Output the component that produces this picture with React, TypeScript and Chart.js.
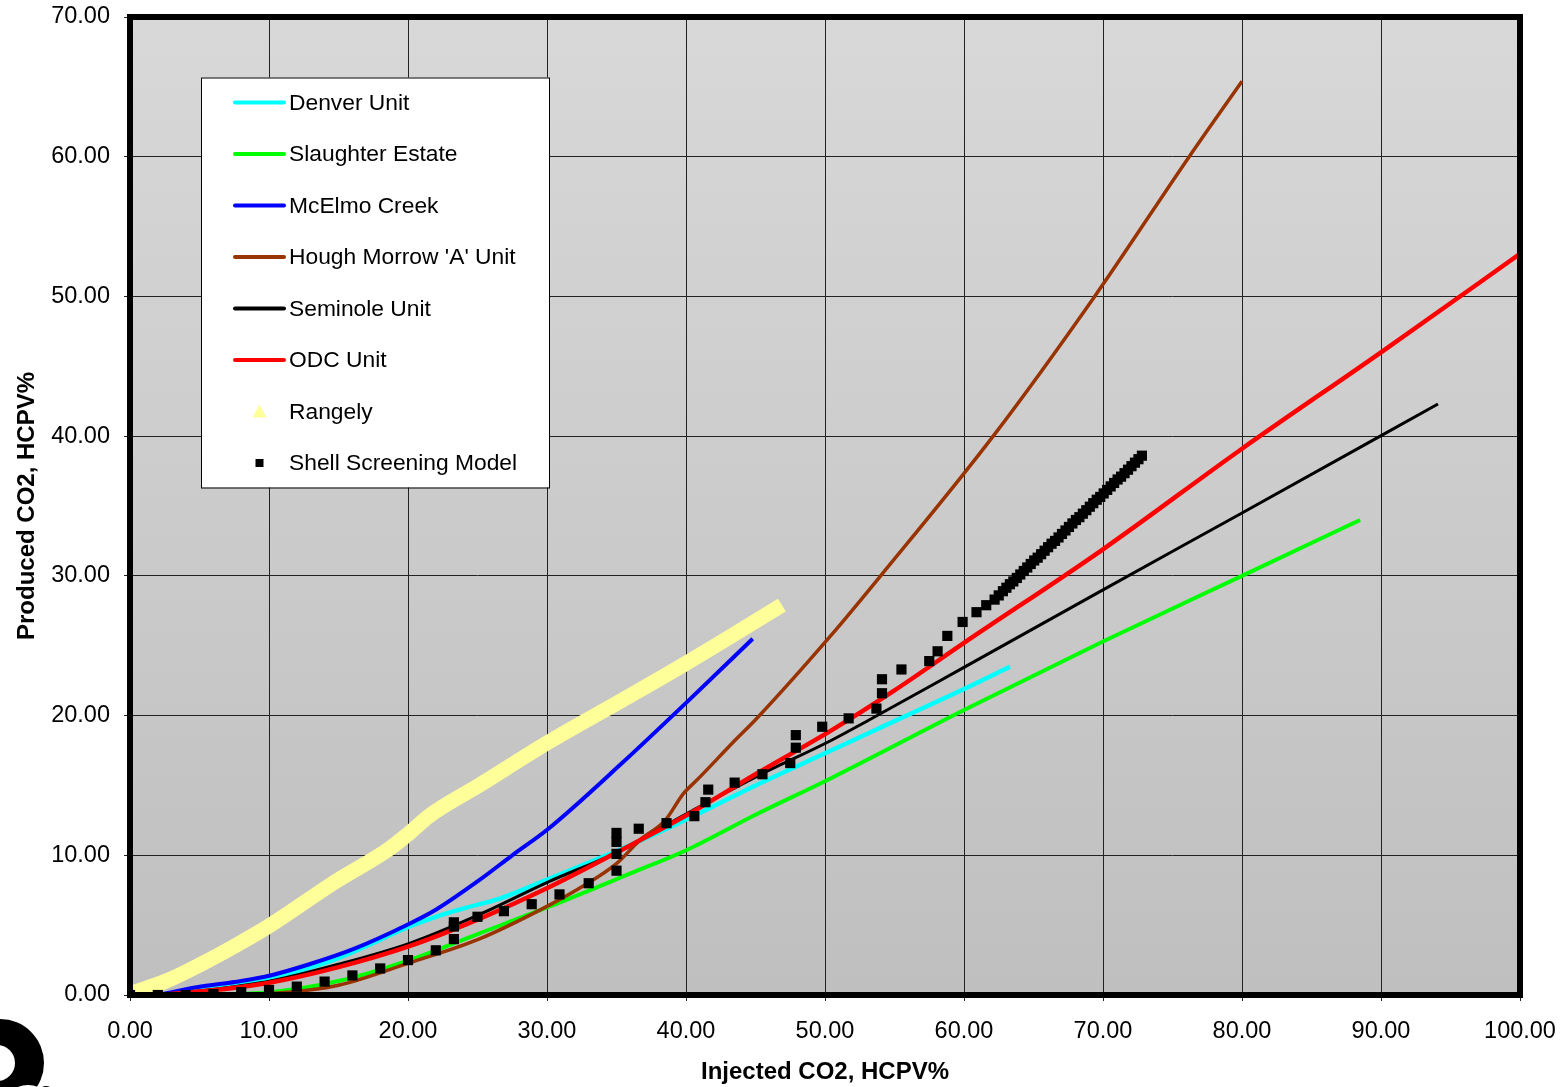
import React, { useEffect, useRef } from 'react';
import { Chart, registerables } from 'chart.js';

Chart.register(...registerables);

const FONT = "'Liberation Sans', Arial, Helvetica, sans-serif";

// ---- Data ----
const denverX = [2, 5, 8, 10, 12, 14.6, 17, 20.1, 22, 24, 26.6, 30.1, 35, 40.1, 45, 50, 55, 60, 63.3];
const denverY = [0, 0.35, 0.8, 1.2, 1.7, 2.5, 3.5, 4.9, 5.6, 6.2, 6.9, 8.3, 10.3, 12.6, 15.0, 17.3, 19.6, 21.9, 23.5];

const slaughterX = [4.8, 10.1, 15, 20.1, 25.1, 30.1, 36, 40.1, 45, 50.4, 60, 70, 80, 88.5];
const slaughterY = [0, 0.2, 1.0, 2.5, 4.4, 6.3, 8.7, 10.4, 12.9, 15.5, 20.4, 25.3, 30.0, 34.0];

const mcelmoX = [2, 4.8, 8, 10.1, 12.9, 16.1, 20.1, 22, 25.1, 27.5, 30.1, 35.4, 40.1, 44.8];
const mcelmoY = [0, 0.55, 1.0, 1.4, 2.2, 3.3, 5.1, 6.1, 8.2, 10.0, 11.9, 16.6, 21.0, 25.5];

const houghX = [6, 10.1, 15, 20.1, 25.1, 30.1, 32.6, 35, 36.7, 38.5, 39.8, 40.8, 43.6, 45, 50.4, 54, 62.1, 69.4, 76.2, 80];
const houghY = [0, 0.1, 0.7, 2.3, 4.0, 6.4, 7.8, 9.4, 11.1, 12.5, 14.4, 15.4, 18.3, 19.7, 25.7, 30.0, 40.0, 50.0, 60.0, 65.4];

const seminoleX = [2, 6, 10.1, 15, 20.1, 25, 30.1, 35, 40.1, 45, 50.4, 53.2, 59.9, 70, 80, 94.1];
const seminoleY = [0, 0.4, 1.0, 2.2, 3.7, 5.7, 8.1, 10.2, 13.0, 15.6, 18.2, 19.7, 23.4, 29.0, 34.5, 42.3];

const odcX = [2, 6, 10.1, 15, 20.1, 25, 30.1, 35, 40.1, 45, 50.4, 55, 60, 70, 80, 90, 100.5];
const odcY = [0, 0.35, 0.9, 2.0, 3.5, 5.4, 7.7, 10.2, 12.9, 15.8, 18.9, 21.8, 25.2, 31.9, 39.1, 46.0, 53.4];

const rangelyX = [0, 2.6, 5.1, 7.7, 10.1, 14.6, 18.7, 20.1, 21.5, 25.1, 30.1, 35.4, 40.1, 46.9];
const rangelyY = [0.1, 1.0, 2.2, 3.6, 5.0, 8.0, 10.5, 11.6, 12.8, 15.0, 18.1, 21.1, 23.8, 27.9];

const shellX = [
  0, 2, 4, 6, 8, 10, 12, 14, 16, 18, 20, 22, 23.3, 23.3, 23.3, 25, 26.9, 28.9, 30.9, 33,
  35, 35, 35, 35, 36.6, 38.6, 40.6, 41.4, 41.6, 43.5, 45.5, 47.5, 47.9, 47.9, 49.8,
  51.7, 53.7, 54.1, 54.1, 55.5, 57.5, 58.1, 58.8, 59.9, 60.9, 61.6, 62.2, 62.5,
  62.8, 63.05, 63.3, 63.55, 63.8, 64.05, 64.3, 64.55, 64.8, 65.05, 65.3, 65.55, 65.8, 66.05,
  66.3, 66.55, 66.8, 67.05, 67.3, 67.55, 67.8, 68.05, 68.3, 68.55, 68.8, 69.05, 69.3, 69.55,
  69.8, 70.05, 70.3, 70.55, 70.8, 71.05, 71.3, 71.55, 71.8, 72.05, 72.3, 72.55, 72.8,
];
const shellY = [
  0, 0, 0, 0.07, 0.2, 0.36, 0.6, 0.96, 1.4, 1.9, 2.5, 3.2, 4.0, 4.9, 5.2, 5.6, 6.0, 6.5, 7.2, 8.0,
  8.9, 10.1, 10.96, 11.6, 11.9, 12.3, 12.8, 13.8, 14.7, 15.2, 15.8, 16.6, 17.7, 18.6, 19.2,
  19.8, 20.5, 21.6, 22.6, 23.3, 23.9, 24.6, 25.7, 26.7, 27.4, 27.9, 28.3, 28.6,
  28.9, 29.15, 29.4, 29.6, 29.85, 30.1, 30.35, 30.6, 30.85, 31.1, 31.3, 31.55, 31.8, 32.05,
  32.3, 32.5, 32.75, 33.0, 33.25, 33.5, 33.75, 34.0, 34.2, 34.45, 34.7, 34.95, 35.2, 35.45,
  35.65, 35.9, 36.15, 36.4, 36.65, 36.9, 37.1, 37.35, 37.6, 37.85, 38.1, 38.35, 38.6,
];

const seriesNames = [
  'Denver Unit',
  'Slaughter Estate',
  'McElmo Creek',
  "Hough Morrow 'A' Unit",
  'Seminole Unit',
  'ODC Unit',
  'Rangely',
  'Shell Screening Model',
];
const seriesColors = ['#00ffff', '#00ff00', '#0000ff', '#993300', '#000000', '#ff0000', '#ffff99', '#000000'];

const xTitle = 'Injected CO2, HCPV%';
const yTitle = 'Produced CO2, HCPV%';

const pts = (xs: number[], ys: number[]) => xs.map((x, i) => ({ x, y: ys[i] }));

const decorPlugin = {
  id: 'decor',
  beforeDraw(chart: any) {
    const { ctx, chartArea: a } = chart;
    ctx.save();
    const g = ctx.createLinearGradient(0, a.top, 0, a.bottom);
    g.addColorStop(0, '#d8d8d8');
    g.addColorStop(1, '#bfbfbf');
    ctx.fillStyle = g;
    ctx.fillRect(a.left, a.top, a.right - a.left, a.bottom - a.top);
    ctx.restore();
  },
  afterDraw(chart: any) {
    const { ctx, chartArea: a } = chart;
    ctx.save();
    // plot border
    ctx.strokeStyle = '#000';
    ctx.lineWidth = 6;
    ctx.strokeRect(a.left, a.top, a.right - a.left, a.bottom - a.top);

    // legend
    const bx = 201, by = 77.5, bw = 348, bh = 410;
    ctx.fillStyle = '#fff';
    ctx.fillRect(bx, by, bw, bh);
    ctx.lineWidth = 1;
    ctx.strokeStyle = '#000';
    ctx.strokeRect(bx + 0.5, by + 0.5, bw, bh);
    ctx.font = `22.8px ${FONT}`;
    ctx.textBaseline = 'middle';
    ctx.textAlign = 'left';
    seriesNames.forEach((name, i) => {
      const yy = 102.5 + i * 51.5;
      if (i < 6) {
        ctx.strokeStyle = seriesColors[i];
        ctx.lineWidth = 4;
        ctx.lineCap = 'round';
        ctx.beginPath();
        ctx.moveTo(235, yy);
        ctx.lineTo(284, yy);
        ctx.stroke();
      } else if (i === 6) {
        ctx.fillStyle = seriesColors[i];
        ctx.beginPath();
        ctx.moveTo(259.5, yy - 7);
        ctx.lineTo(266.5, yy + 6);
        ctx.lineTo(252.5, yy + 6);
        ctx.closePath();
        ctx.fill();
      } else {
        ctx.fillStyle = '#000';
        ctx.fillRect(255.5, yy - 4, 8, 8);
      }
      ctx.fillStyle = '#000';
      ctx.fillText(name, 289, yy + 1);
    });

    // logo fragment bottom-left
    ctx.fillStyle = '#000';
    ctx.beginPath();
    ctx.arc(0, 1063, 44, 0, Math.PI * 2);
    ctx.fill();
    ctx.fillStyle = '#fff';
    ctx.beginPath();
    ctx.arc(-3, 1063, 18, 0, Math.PI * 2);
    ctx.fill();
    ctx.beginPath();
    ctx.arc(28, 1112, 27, 0, Math.PI * 2);
    ctx.fill();
    ctx.fillStyle = '#000';
    ctx.beginPath();
    ctx.arc(46, 1094, 8, 0, Math.PI * 2);
    ctx.fill();
    ctx.restore();
  },
};

export default function App() {
  const ref = useRef<HTMLCanvasElement | null>(null);

  useEffect(() => {
    if (!ref.current) return;
    const lineDs = (i: number, xs: number[], ys: number[], width: number, order: number) => ({
      label: seriesNames[i],
      data: pts(xs, ys),
      showLine: true,
      borderColor: seriesColors[i],
      backgroundColor: seriesColors[i],
      borderWidth: width,
      pointRadius: 0,
      cubicInterpolationMode: 'monotone',
      order,
    });
    const chart = new Chart(ref.current, {
      type: 'scatter',
      data: {
        datasets: [
          lineDs(0, denverX, denverY, 4.5, 7),
          lineDs(1, slaughterX, slaughterY, 4, 6),
          lineDs(2, mcelmoX, mcelmoY, 4, 5),
          lineDs(3, houghX, houghY, 3.5, 4),
          lineDs(4, seminoleX, seminoleY, 3, 3),
          lineDs(5, odcX, odcY, 4.5, 2),
          lineDs(6, rangelyX, rangelyY, 15, 1),
          {
            label: seriesNames[7],
            data: pts(shellX, shellY),
            showLine: false,
            pointStyle: 'rect',
            pointRadius: 7.2,
            pointBorderWidth: 0,
            backgroundColor: '#000',
            borderColor: '#000',
            order: 0,
          },
        ] as any,
      },
      options: {
        responsive: false,
        animation: false,
        events: [],
        devicePixelRatio: 1,
        layout: { padding: { top: 17, right: 47, left: 0, bottom: 0 } },
        plugins: { legend: { display: false }, tooltip: { enabled: false } },
        scales: {
          x: {
            type: 'linear',
            min: 0,
            max: 100,
            afterFit: (s: any) => { s.height = 92; s.paddingLeft = 0; s.paddingRight = 0; },
            border: { display: false },
            grid: { color: '#222', lineWidth: 1, tickLength: 6, drawTicks: true },
            ticks: {
              stepSize: 10,
              padding: 16,
              color: '#000',
              font: { family: FONT, size: 23.5 },
              maxRotation: 0,
              callback: (v: any) => Number(v).toFixed(2),
            },
            title: {
              display: true,
              text: xTitle,
              color: '#000',
              font: { family: FONT, size: 24, weight: 'bold' },
              padding: { top: 0, bottom: 0 },
            },
          },
          y: {
            type: 'linear',
            min: 0,
            max: 70,
            afterFit: (s: any) => { s.width = 130; s.paddingTop = 0; s.paddingBottom = 0; },
            border: { display: false },
            grid: { color: '#222', lineWidth: 1, tickLength: 6, drawTicks: true },
            ticks: {
              stepSize: 10,
              padding: 14,
              color: '#000',
              font: { family: FONT, size: 23.5 },
              callback: (v: any) => Number(v).toFixed(2),
            },
            title: {
              display: true,
              text: yTitle,
              color: '#000',
              font: { family: FONT, size: 24, weight: 'bold' },
              padding: { top: 13, bottom: 0 },
            },
          },
        },
      } as any,
      plugins: [decorPlugin],
    });
    return () => chart.destroy();
  }, []);

  return (
    <div style={{ position: 'fixed', left: 0, top: 0, width: 1567, height: 1087, background: '#fff' }}>
      <canvas ref={ref} width={1567} height={1087} style={{ width: 1567, height: 1087, display: 'block' }} />
    </div>
  );
}
